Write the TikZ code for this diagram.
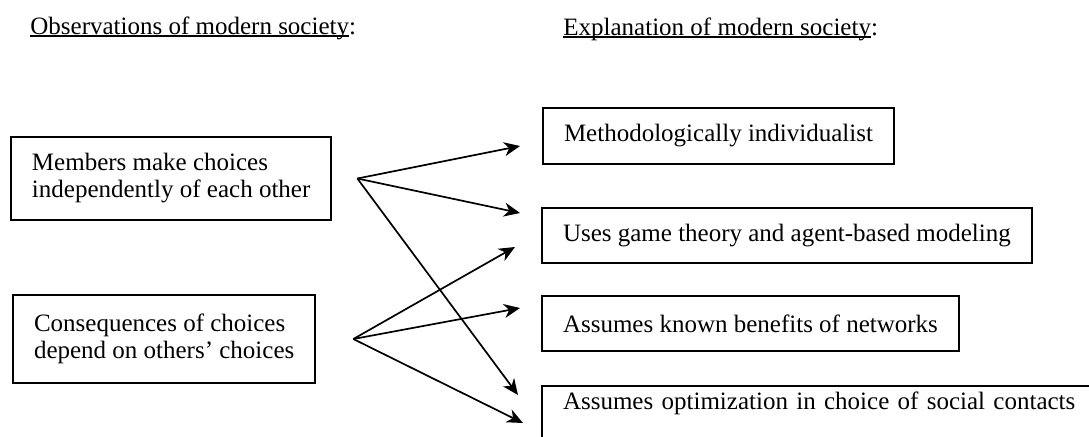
\documentclass[tikz,border=0pt]{standalone}
\usepackage{fontspec}
\setmainfont{Liberation Serif}
\usetikzlibrary{arrows.meta, positioning, calc}
\newcommand{\undl}[1]{\setbox0\hbox{#1}\rlap{\rule[-1.6pt]{\wd0}{1pt}}\box0}

\begin{document}
\begin{tikzpicture}[x=0.5pt, y=-0.5pt,
  box/.style={draw, line width=1pt, anchor=north west, align=left,
              inner xsep=10.5pt, font=\fontsize{12.5}{13.5}\selectfont},
  head/.style={anchor=base west, inner sep=0pt, font=\fontsize{12.5}{13.5}\selectfont},
  arr/.style={-{Stealth[length=8pt, width=7pt, inset=2.5pt]}, line width=0.85pt}
]
  \useasboundingbox (0,0) rectangle (1089,436);

  \node[head] (obs) at (30,34) {\undl{Observations of modern society}:};
  \node[head] (expl) at (563,35) {\undl{Explanation of modern society}:};

  \node[box, minimum height=41.5pt] (indep) at (10,136) {Members make choices\\independently of each other};
  \node[box, minimum height=44pt] (conseq) at (12,294) {Consequences of choices\\depend on others' choices};

  \node[box, minimum height=28pt] (method) at (542,107) {Methodologically individualist};
  \node[box, minimum height=27.5pt] (game) at (541,207) {Uses game theory and agent-based modeling};
  \node[box, minimum height=27.5pt] (bene) at (541,295) {Assumes known benefits of networks};
  \node[box, text width=290pt, text height=9pt, text depth=40pt, inner ysep=2.5pt] (optim) at (541,385)
    {Assumes optimization in choice of social contacts};

  \coordinate (fromA) at ($(indep.east)+(25,0)$);
  \coordinate (fromB) at ($(conseq.east)+(37,0)$);

  \draw[arr] (fromA) -- ($(method.west)+(-22,10)$);
  \draw[arr] (fromA) -- ($(game.west)+(-21,-22.5)$);
  \draw[arr] (fromA) -- ($(optim.north west)+(-23,10)$);

  \draw[arr] (fromB) -- ($(game.west)+(-26,11.5)$);
  \draw[arr] (fromB) -- ($(bene.west)+(-21,-15.5)$);
  \draw[arr] (fromB) -- ($(optim.north west)+(-18,38)$);
\end{tikzpicture}
\end{document}
